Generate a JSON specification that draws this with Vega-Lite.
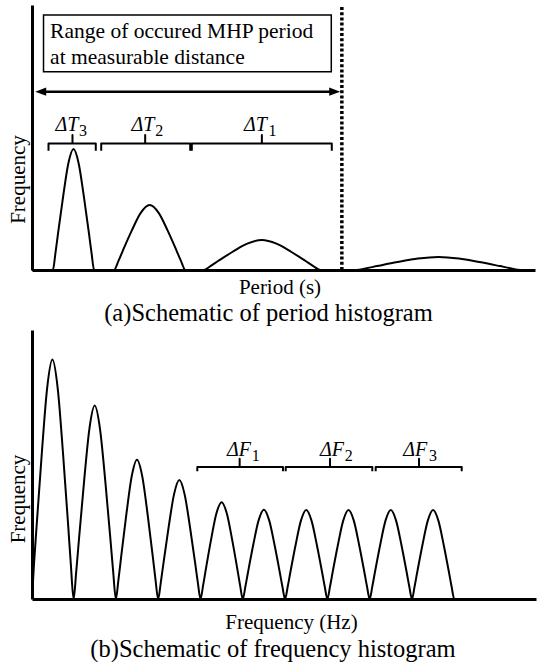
{
  "$schema": "https://vega.github.io/schema/vega-lite/v6.json",
  "padding": {"left": 7, "top": 3, "right": 0, "bottom": 0},
  "spacing": 4,
  "background": "white",
  "config": {
    "view": {"stroke": null},
    "font": "'Times New Roman', 'Liberation Serif', Tinos, serif",
    "axis": {
      "domainWidth": 3, "domainColor": "black", "ticks": false, "labels": false, "grid": false,
      "titleFont": "'Times New Roman', 'Liberation Serif', Tinos, serif", "titleFontWeight": "normal", "titleFontSize": 21, "titleColor": "black"
    },
    "title": {"font": "'Times New Roman', 'Liberation Serif', Tinos, serif", "fontWeight": "normal", "fontSize": 24.5, "color": "black", "orient": "bottom"},
    "text": {"font": "'Times New Roman', 'Liberation Serif', Tinos, serif", "color": "black"}
  },
  "datasets": {
    "aCurve": [
      {"period": 0, "count": 0},
      {"period": 4.15, "count": 0}, {"period": 4.66, "count": 6.4}, {"period": 5.17, "count": 13.71}, {"period": 6.2, "count": 27.88}, {"period": 7.22, "count": 40.22}, {"period": 8.25, "count": 45.7}, {"period": 9.28, "count": 40.22}, {"period": 10.3, "count": 27.88}, {"period": 11.33, "count": 13.71}, {"period": 11.84, "count": 6.4}, {"period": 12.35, "count": 0},
      {"period": 16.3, "count": 0}, {"period": 17.19, "count": 3.43}, {"period": 18.07, "count": 7.35}, {"period": 19.85, "count": 14.95}, {"period": 21.62, "count": 21.56}, {"period": 23.4, "count": 24.5}, {"period": 25.18, "count": 21.56}, {"period": 26.95, "count": 14.95}, {"period": 28.73, "count": 7.35}, {"period": 29.61, "count": 3.43}, {"period": 30.5, "count": 0},
      {"period": 34.1, "count": 0}, {"period": 35.55, "count": 1.58}, {"period": 37.0, "count": 3.39}, {"period": 39.9, "count": 6.89}, {"period": 42.8, "count": 9.94}, {"period": 45.7, "count": 11.3}, {"period": 48.6, "count": 9.94}, {"period": 51.5, "count": 6.89}, {"period": 54.4, "count": 3.39}, {"period": 55.85, "count": 1.58}, {"period": 57.3, "count": 0},
      {"period": 64.5, "count": 0}, {"period": 66.54, "count": 0.69}, {"period": 68.58, "count": 1.47}, {"period": 72.65, "count": 2.99}, {"period": 76.73, "count": 4.31}, {"period": 80.8, "count": 4.9}, {"period": 84.88, "count": 4.31}, {"period": 88.95, "count": 2.99}, {"period": 93.03, "count": 1.47}, {"period": 95.06, "count": 0.69}, {"period": 97.1, "count": 0},
      {"period": 100, "count": 0}
    ],
    "aLimit": [{"period": 61.6, "count": 0, "count2": 100}],
    "aBox": [{"period": 2.29, "period2": 59.5, "count": 74.8, "count2": 96.2}],
    "aBoxText": [
      {"period": 3.6, "count": 87.4, "line": "Range of occured MHP period"},
      {"period": 3.6, "count": 77.7, "line": "at measurable distance"}
    ],
    "aArrow": [{"period": 1.73, "period2": 60.18, "count": 67.3}],
    "aArrowHeads": [
      {"end": "left", "period": 1.73, "count": 67.3},
      {"end": "right", "period": 60.18, "count": 67.3}
    ],
    "aBrackets": [
      {"bracket": "T3", "seq": 1, "period": 3.28, "count": 45.0}, {"bracket": "T3", "seq": 2, "period": 3.28, "count": 47.7}, {"bracket": "T3", "seq": 3, "period": 8.05, "count": 47.7}, {"bracket": "T3", "seq": 4, "period": 8.05, "count": 50.9}, {"bracket": "T3", "seq": 5, "period": 8.05, "count": 47.7}, {"bracket": "T3", "seq": 6, "period": 12.68, "count": 47.7}, {"bracket": "T3", "seq": 7, "period": 12.68, "count": 45.0},
      {"bracket": "T2", "seq": 1, "period": 13.76, "count": 45.0}, {"bracket": "T2", "seq": 2, "period": 13.76, "count": 47.7}, {"bracket": "T2", "seq": 3, "period": 22.5, "count": 47.7}, {"bracket": "T2", "seq": 4, "period": 22.5, "count": 50.9}, {"bracket": "T2", "seq": 5, "period": 22.5, "count": 47.7}, {"bracket": "T2", "seq": 6, "period": 31.45, "count": 47.7}, {"bracket": "T2", "seq": 7, "period": 31.45, "count": 45.0},
      {"bracket": "T1", "seq": 1, "period": 31.77, "count": 45.0}, {"bracket": "T1", "seq": 2, "period": 31.77, "count": 47.7}, {"bracket": "T1", "seq": 3, "period": 45.7, "count": 47.7}, {"bracket": "T1", "seq": 4, "period": 45.7, "count": 50.9}, {"bracket": "T1", "seq": 5, "period": 45.7, "count": 47.7}, {"bracket": "T1", "seq": 6, "period": 59.6, "count": 47.7}, {"bracket": "T1", "seq": 7, "period": 59.6, "count": 45.0}
    ],
    "aLabelMain": [
      {"period": 9.24, "count": 52.57, "label": "ΔT"},
      {"period": 24.35, "count": 52.57, "label": "ΔT"},
      {"period": 46.68, "count": 52.57, "label": "ΔT"}
    ],
    "aLabelSub": [
      {"period": 9.34, "count": 50.4, "label": "3"},
      {"period": 24.49, "count": 50.4, "label": "2"},
      {"period": 47.02, "count": 50.4, "label": "1"}
    ],
    "bCurve": [
      {"hz": 0, "count": 0}, {"hz": 0.38, "count": 12.46}, {"hz": 0.9, "count": 26.7}, {"hz": 1.95, "count": 54.29}, {"hz": 3.0, "count": 78.32}, {"hz": 4.05, "count": 89.0}, {"hz": 5.1, "count": 78.32}, {"hz": 6.15, "count": 54.29}, {"hz": 7.2, "count": 26.7}, {"hz": 7.72, "count": 12.46}, {"hz": 8.25, "count": 0},
      {"hz": 8.77, "count": 10.07}, {"hz": 9.29, "count": 21.57}, {"hz": 10.34, "count": 43.86}, {"hz": 11.39, "count": 63.27}, {"hz": 12.44, "count": 71.9}, {"hz": 13.49, "count": 63.27}, {"hz": 14.54, "count": 43.86}, {"hz": 15.59, "count": 21.57}, {"hz": 16.11, "count": 10.07}, {"hz": 16.64, "count": 0},
      {"hz": 17.16, "count": 7.25}, {"hz": 17.68, "count": 15.54}, {"hz": 18.73, "count": 31.6}, {"hz": 19.78, "count": 45.58}, {"hz": 20.83, "count": 51.8}, {"hz": 21.88, "count": 45.58}, {"hz": 22.93, "count": 31.6}, {"hz": 23.98, "count": 15.54}, {"hz": 24.5, "count": 7.25}, {"hz": 25.03, "count": 0},
      {"hz": 25.56, "count": 6.19}, {"hz": 26.08, "count": 13.26}, {"hz": 27.13, "count": 26.96}, {"hz": 28.18, "count": 38.9}, {"hz": 29.23, "count": 44.2}, {"hz": 30.28, "count": 38.9}, {"hz": 31.33, "count": 26.96}, {"hz": 32.38, "count": 13.26}, {"hz": 32.9, "count": 6.19}, {"hz": 33.43, "count": 0},
      {"hz": 33.95, "count": 5.04}, {"hz": 34.47, "count": 10.8}, {"hz": 35.52, "count": 21.96}, {"hz": 36.57, "count": 31.68}, {"hz": 37.62, "count": 36.0}, {"hz": 38.67, "count": 31.68}, {"hz": 39.72, "count": 21.96}, {"hz": 40.77, "count": 10.8}, {"hz": 41.29, "count": 5.04}, {"hz": 41.82, "count": 0},
      {"hz": 42.34, "count": 4.65}, {"hz": 42.86, "count": 9.96}, {"hz": 43.91, "count": 20.25}, {"hz": 44.96, "count": 29.22}, {"hz": 46.01, "count": 33.2}, {"hz": 47.06, "count": 29.22}, {"hz": 48.11, "count": 20.25}, {"hz": 49.16, "count": 9.96}, {"hz": 49.68, "count": 4.65}, {"hz": 50.21, "count": 0},
      {"hz": 50.74, "count": 4.63}, {"hz": 51.26, "count": 9.93}, {"hz": 52.31, "count": 20.19}, {"hz": 53.36, "count": 29.13}, {"hz": 54.41, "count": 33.1}, {"hz": 55.46, "count": 29.13}, {"hz": 56.51, "count": 20.19}, {"hz": 57.56, "count": 9.93}, {"hz": 58.08, "count": 4.63}, {"hz": 58.61, "count": 0},
      {"hz": 59.13, "count": 4.63}, {"hz": 59.65, "count": 9.93}, {"hz": 60.7, "count": 20.19}, {"hz": 61.75, "count": 29.13}, {"hz": 62.8, "count": 33.1}, {"hz": 63.85, "count": 29.13}, {"hz": 64.9, "count": 20.19}, {"hz": 65.95, "count": 9.93}, {"hz": 66.47, "count": 4.63}, {"hz": 67.0, "count": 0},
      {"hz": 67.52, "count": 4.63}, {"hz": 68.04, "count": 9.93}, {"hz": 69.09, "count": 20.19}, {"hz": 70.14, "count": 29.13}, {"hz": 71.19, "count": 33.1}, {"hz": 72.24, "count": 29.13}, {"hz": 73.29, "count": 20.19}, {"hz": 74.34, "count": 9.93}, {"hz": 74.86, "count": 4.63}, {"hz": 75.39, "count": 0},
      {"hz": 75.91, "count": 4.63}, {"hz": 76.43, "count": 9.93}, {"hz": 77.48, "count": 20.19}, {"hz": 78.53, "count": 29.13}, {"hz": 79.58, "count": 33.1}, {"hz": 80.63, "count": 29.13}, {"hz": 81.68, "count": 20.19}, {"hz": 82.73, "count": 9.93}, {"hz": 83.25, "count": 4.63}, {"hz": 83.78, "count": 0},
      {"hz": 100, "count": 0}
    ],
    "bBrackets": [
      {"bracket": "F1", "seq": 1, "hz": 32.8, "count": 47.47}, {"bracket": "F1", "seq": 2, "hz": 32.8, "count": 49.07}, {"bracket": "F1", "seq": 3, "hz": 41.2, "count": 49.07}, {"bracket": "F1", "seq": 4, "hz": 41.2, "count": 52.16}, {"bracket": "F1", "seq": 5, "hz": 41.2, "count": 49.07}, {"bracket": "F1", "seq": 6, "hz": 49.8, "count": 49.07}, {"bracket": "F1", "seq": 7, "hz": 49.8, "count": 47.47},
      {"bracket": "F2", "seq": 1, "hz": 50.34, "count": 47.47}, {"bracket": "F2", "seq": 2, "hz": 50.34, "count": 49.07}, {"bracket": "F2", "seq": 3, "hz": 59.13, "count": 49.07}, {"bracket": "F2", "seq": 4, "hz": 59.13, "count": 52.16}, {"bracket": "F2", "seq": 5, "hz": 59.13, "count": 49.07}, {"bracket": "F2", "seq": 6, "hz": 67.52, "count": 49.07}, {"bracket": "F2", "seq": 7, "hz": 67.52, "count": 47.47},
      {"bracket": "F3", "seq": 1, "hz": 68.19, "count": 47.47}, {"bracket": "F3", "seq": 2, "hz": 68.19, "count": 49.07}, {"bracket": "F3", "seq": 3, "hz": 76.79, "count": 49.07}, {"bracket": "F3", "seq": 4, "hz": 76.79, "count": 52.16}, {"bracket": "F3", "seq": 5, "hz": 76.79, "count": 49.07}, {"bracket": "F3", "seq": 6, "hz": 85.26, "count": 49.07}, {"bracket": "F3", "seq": 7, "hz": 85.26, "count": 47.47}
    ],
    "bLabelMain": [
      {"hz": 43.45, "count": 53.05, "label": "ΔF"},
      {"hz": 61.9, "count": 53.05, "label": "ΔF"},
      {"hz": 78.43, "count": 53.05, "label": "ΔF"}
    ],
    "bLabelSub": [
      {"hz": 43.59, "count": 51.2, "label": "1"},
      {"hz": 62.04, "count": 51.2, "label": "2"},
      {"hz": 78.77, "count": 51.2, "label": "3"}
    ]
  },
  "vconcat": [
    {
      "width": 503,
      "height": 265,
      "title": {"text": "(a)Schematic of period histogram", "dx": -15, "offset": 5},
      "encoding": {
        "x": {"field": "period", "type": "quantitative", "scale": {"domain": [0, 100], "nice": false, "zero": false},
              "axis": {"title": "Period (s)", "titleX": 247.5, "titleY": 23.4, "titleBaseline": "alphabetic", "titleAnchor": null}},
        "y": {"field": "count", "type": "quantitative", "scale": {"domain": [0, 100], "nice": false},
              "axis": {"title": "Frequency", "titleX": -13.5, "titleY": 174, "titleAngle": 270, "titleBaseline": "middle", "titleAlign": "center"}}
      },
      "layer": [
        {"data": {"name": "aBox"}, "mark": {"type": "rect", "fill": "white", "stroke": "black", "strokeWidth": 1.5},
         "encoding": {"x2": {"field": "period2"}, "y2": {"field": "count2"}}},
        {"data": {"name": "aBoxText"}, "mark": {"type": "text", "align": "left", "baseline": "alphabetic", "fontSize": 21.5},
         "encoding": {"text": {"field": "line"}}},
        {"data": {"name": "aLimit"}, "mark": {"type": "rule", "color": "black", "strokeWidth": 3.5, "strokeDash": [3, 2.2]},
         "encoding": {"y2": {"field": "count2"}}},
        {"data": {"name": "aArrow"}, "mark": {"type": "rule", "color": "black", "strokeWidth": 2.5},
         "encoding": {"x2": {"field": "period2"}}},
        {"data": {"name": "aArrowHeads"}, "transform": [{"filter": "datum.end === 'left'"}],
         "mark": {"type": "point", "shape": "M-1,0L1,-0.75L1,0.75Z", "filled": true, "color": "black", "size": 121, "opacity": 1},
         "encoding": {}},
        {"data": {"name": "aArrowHeads"}, "transform": [{"filter": "datum.end === 'right'"}],
         "mark": {"type": "point", "shape": "M1,0L-1,-0.75L-1,0.75Z", "filled": true, "color": "black", "size": 121, "opacity": 1},
         "encoding": {}},
        {"data": {"name": "aBrackets"}, "mark": {"type": "line", "color": "black", "strokeWidth": 2, "strokeJoin": "round"},
         "encoding": {"detail": {"field": "bracket"}, "order": {"field": "seq", "type": "quantitative"}}},
        {"data": {"name": "aLabelMain"}, "mark": {"type": "text", "align": "right", "baseline": "alphabetic", "fontSize": 20, "fontStyle": "italic"},
         "encoding": {"text": {"field": "label"}}},
        {"data": {"name": "aLabelSub"}, "mark": {"type": "text", "align": "left", "baseline": "alphabetic", "fontSize": 16},
         "encoding": {"text": {"field": "label"}}},
        {"data": {"name": "aCurve"}, "mark": {"type": "line", "interpolate": "monotone", "color": "black", "strokeWidth": 2},
         "encoding": {"order": {"field": "period", "type": "quantitative"}}}
      ]
    },
    {
      "width": 504,
      "height": 269,
      "title": {"text": "(b)Schematic of frequency histogram", "dx": -11, "offset": 5},
      "encoding": {
        "x": {"field": "hz", "type": "quantitative", "scale": {"domain": [0, 100], "nice": false, "zero": false},
              "axis": {"title": "Frequency (Hz)", "titleX": 259, "titleY": 29.7, "titleBaseline": "alphabetic", "titleAnchor": null}},
        "y": {"field": "count", "type": "quantitative", "scale": {"domain": [0, 100], "nice": false},
              "axis": {"title": "Frequency", "titleX": -14, "titleY": 168.5, "titleAngle": 270, "titleBaseline": "middle", "titleAlign": "center"}}
      },
      "layer": [
        {"data": {"name": "bBrackets"}, "mark": {"type": "line", "color": "black", "strokeWidth": 2, "strokeJoin": "round"},
         "encoding": {"detail": {"field": "bracket"}, "order": {"field": "seq", "type": "quantitative"}}},
        {"data": {"name": "bLabelMain"}, "mark": {"type": "text", "align": "right", "baseline": "alphabetic", "fontSize": 20, "fontStyle": "italic"},
         "encoding": {"text": {"field": "label"}}},
        {"data": {"name": "bLabelSub"}, "mark": {"type": "text", "align": "left", "baseline": "alphabetic", "fontSize": 16},
         "encoding": {"text": {"field": "label"}}},
        {"data": {"name": "bCurve"}, "mark": {"type": "line", "interpolate": "monotone", "color": "black", "strokeWidth": 2},
         "encoding": {"order": {"field": "hz", "type": "quantitative"}}}
      ]
    }
  ]
}
